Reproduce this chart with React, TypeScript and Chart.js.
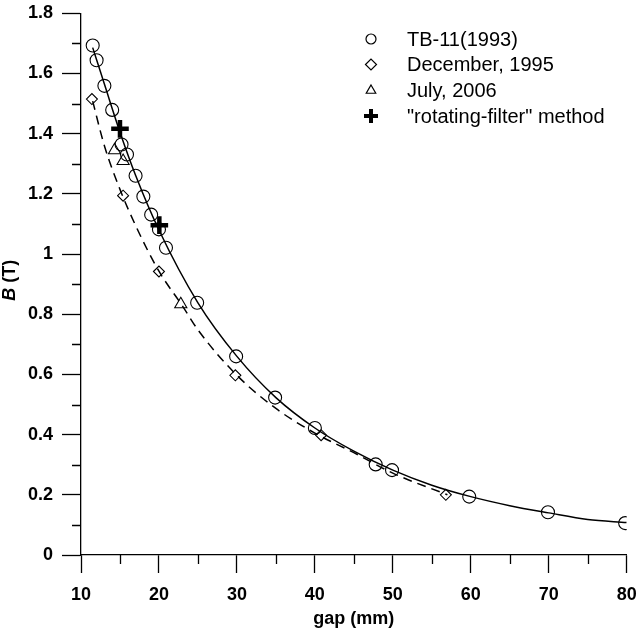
import React, { useEffect, useRef } from 'react';
import { Chart, registerables } from 'chart.js';

Chart.register(...registerables);

// TB-11(1993) measured points
const tbGap = [11.5, 12, 13, 14, 15.2, 15.9, 17, 18, 19, 20, 20.9, 24.9, 29.9, 34.9, 40, 47.8, 49.9, 59.8, 69.9, 79.8];
const tbB = [1.693, 1.644, 1.559, 1.479, 1.364, 1.331, 1.26, 1.191, 1.131, 1.082, 1.021, 0.838, 0.66, 0.523, 0.422, 0.301, 0.282, 0.194, 0.142, 0.106];

// December, 1995
const decGap = [11.4, 15.4, 20, 29.8, 40.8, 56.8];
const decB = [1.515, 1.194, 0.942, 0.597, 0.398, 0.2];

// July, 2006
const julGap = [14.3, 15.4, 22.8];
const julB = [1.345, 1.309, 0.833];

// "rotating-filter" method
const rotGap = [15, 20.05];
const rotB = [1.416, 1.096];

// fitted curve (solid) through TB-11 data
const fitGap = [11.5, 13, 15, 17, 20, 25, 30, 35, 40, 45, 50, 55, 60, 65, 70, 75, 80];
const fitB = [1.686, 1.565, 1.405, 1.262, 1.08, 0.838, 0.66, 0.523, 0.422, 0.345, 0.282, 0.232, 0.194, 0.164, 0.14, 0.118, 0.108];

// fitted curve (dashed) through December 1995 data
const dashGap = [11.5, 13, 15, 17, 20, 23, 25, 30, 35, 40, 45, 50, 57];
const dashB = [1.508, 1.36, 1.215, 1.095, 0.943, 0.828, 0.748, 0.597, 0.487, 0.405, 0.34, 0.272, 0.2];

const xTicks = [10, 20, 30, 40, 50, 60, 70, 80];
const yTicks = [0, 0.2, 0.4, 0.6, 0.8, 1, 1.2, 1.4, 1.6, 1.8];
const xMinorTicks = [15, 25, 35, 45, 55, 65, 75];
const yMinorTicks = [0.1, 0.3, 0.5, 0.7, 0.9, 1.1, 1.3, 1.5, 1.7];

const legendLabels = ['TB-11(1993)', 'December, 1995', 'July, 2006', '"rotating-filter" method'];

const FONT = "'Liberation Sans', Arial, sans-serif";

const pts = (xs: number[], ys: number[]) => xs.map((x, i) => ({ x, y: ys[i] }));

const drawMarker = (ctx: CanvasRenderingContext2D, kind: string, x: number, y: number, r: number) => {
  ctx.save();
  ctx.strokeStyle = '#000';
  ctx.fillStyle = '#000';
  ctx.beginPath();
  if (kind === 'circle') {
    ctx.lineWidth = 1.2;
    ctx.arc(x, y, r, 0, Math.PI * 2);
    ctx.stroke();
  } else if (kind === 'diamond') {
    ctx.lineWidth = 1.2;
    ctx.moveTo(x - r, y);
    ctx.lineTo(x, y - r);
    ctx.lineTo(x + r, y);
    ctx.lineTo(x, y + r);
    ctx.closePath();
    ctx.stroke();
  } else if (kind === 'triangle') {
    ctx.lineWidth = 1.2;
    for (let k = 0; k < 3; k++) {
      const a = (k * 2 * Math.PI) / 3;
      const px = x + Math.sin(a) * r;
      const py = y - Math.cos(a) * r;
      if (k === 0) ctx.moveTo(px, py);
      else ctx.lineTo(px, py);
    }
    ctx.closePath();
    ctx.stroke();
  } else if (kind === 'plus') {
    ctx.lineWidth = 4;
    ctx.moveTo(x - r, y);
    ctx.lineTo(x + r, y);
    ctx.moveTo(x, y - r);
    ctx.lineTo(x, y + r);
    ctx.stroke();
  }
  ctx.restore();
};

const decorPlugin = {
  id: 'decor',
  afterDraw(chart: any) {
    const { ctx, chartArea, scales } = chart;
    const xs = scales.x;
    const ys = scales.y;
    ctx.save();
    ctx.strokeStyle = '#000';
    ctx.lineWidth = 1.3;
    ctx.beginPath();
    for (const v of xMinorTicks) {
      const px = Math.round(xs.getPixelForValue(v)) + 0.5;
      ctx.moveTo(px, chartArea.bottom);
      ctx.lineTo(px, chartArea.bottom + 9);
    }
    for (const v of yMinorTicks) {
      const py = Math.round(ys.getPixelForValue(v)) + 0.5;
      ctx.moveTo(chartArea.left, py);
      ctx.lineTo(chartArea.left - 9, py);
    }
    ctx.stroke();

    // y-axis title with italic B
    ctx.fillStyle = '#000';
    ctx.textBaseline = 'middle';
    ctx.translate(10, (chartArea.top + chartArea.bottom) / 2 - 4);
    ctx.rotate(-Math.PI / 2);
    const f1 = `italic bold 18px ${FONT}`;
    const f2 = `bold 18px ${FONT}`;
    ctx.font = f1;
    const w1 = ctx.measureText('B').width;
    ctx.font = f2;
    const w2 = ctx.measureText(' (T)').width;
    let sx = -(w1 + w2) / 2;
    ctx.font = f1;
    ctx.textAlign = 'left';
    ctx.fillText('B', sx, 0);
    ctx.font = f2;
    ctx.fillText(' (T)', sx + w1, 0);
    ctx.restore();

    // legend
    const kinds = ['circle', 'diamond', 'triangle', 'plus'];
    const sizes = [5, 5.5, 5.5, 7];
    const rowY = [39, 64.5, 90.5, 116];
    ctx.save();
    ctx.font = `20px ${FONT}`;
    ctx.fillStyle = '#000';
    ctx.textBaseline = 'middle';
    ctx.textAlign = 'left';
    legendLabels.forEach((lab, i) => {
      drawMarker(ctx, kinds[i], 371, rowY[i], sizes[i]);
      ctx.fillText(lab, 407, rowY[i] + 1);
    });
    ctx.restore();
  },
};

export default function App() {
  const ref = useRef<HTMLCanvasElement | null>(null);
  useEffect(() => {
    if (!ref.current) return;
    const chart = new Chart(ref.current, {
      type: 'scatter',
      data: {
        datasets: [
          {
            label: 'fit TB-11',
            data: pts(fitGap, fitB),
            showLine: true,
            borderColor: '#000',
            borderWidth: 1.5,
            pointRadius: 0,
            cubicInterpolationMode: 'monotone',
            order: 5,
          },
          {
            label: 'fit Dec 1995',
            data: pts(dashGap, dashB),
            showLine: true,
            borderColor: '#000',
            borderWidth: 1.5,
            borderDash: [9, 6],
            pointRadius: 0,
            cubicInterpolationMode: 'monotone',
            order: 4,
          },
          {
            label: legendLabels[0],
            data: pts(tbGap, tbB),
            pointStyle: 'circle',
            pointRadius: 6.5,
            borderWidth: 1.1,
            borderColor: '#000',
            backgroundColor: 'rgba(0,0,0,0)',
            order: 3,
          },
          {
            label: legendLabels[1],
            data: pts(decGap, decB),
            pointStyle: 'rectRot',
            pointRadius: 5.5,
            borderWidth: 1.1,
            borderColor: '#000',
            backgroundColor: 'rgba(0,0,0,0)',
            order: 2,
          },
          {
            label: legendLabels[2],
            data: pts(julGap, julB),
            pointStyle: 'triangle',
            pointRadius: 7,
            borderWidth: 1.1,
            borderColor: '#000',
            backgroundColor: 'rgba(0,0,0,0)',
            order: 1,
          },
          {
            label: legendLabels[3],
            data: pts(rotGap, rotB),
            pointStyle: 'cross',
            pointRadius: 8.8,
            borderWidth: 4.5,
            borderColor: '#000',
            backgroundColor: '#000',
            order: 0,
          },
        ],
      },
      options: {
        animation: false,
        responsive: false,
        layout: { padding: { left: 0, right: 10, top: 7.5, bottom: 0 } },
        plugins: {
          legend: { display: false },
          tooltip: { enabled: false },
        },
        scales: {
          x: {
            type: 'linear',
            min: 10,
            max: 80,
            afterBuildTicks: (s: any) => {
              s.ticks = xTicks.map((v) => ({ value: v }));
            },
            afterFit: (s: any) => {
              s.height = 73;
              s.paddingLeft = 0;
              s.paddingRight = 0;
            },
            grid: {
              display: true,
              drawOnChartArea: false,
              drawTicks: true,
              tickLength: 18,
              tickColor: '#000',
              tickWidth: 1.3,
            },
            border: { display: true, color: '#000', width: 1.3 },
            ticks: {
              color: '#000',
              padding: 11,
              maxRotation: 0,
              autoSkip: false,
              font: { family: FONT, size: 18, weight: 'bold' },
              callback: (v: any) => String(v),
            },
            title: {
              display: true,
              text: 'gap (mm)',
              color: '#000',
              padding: 0,
              font: { family: FONT, size: 18, weight: 'bold', lineHeight: 1 },
            },
          },
          y: {
            type: 'linear',
            min: 0,
            max: 1.8,
            afterBuildTicks: (s: any) => {
              s.ticks = yTicks.map((v) => ({ value: v }));
            },
            afterFit: (s: any) => {
              s.width = 81;
              s.paddingTop = 0;
              s.paddingBottom = 0;
            },
            grid: {
              display: true,
              drawOnChartArea: false,
              drawTicks: true,
              tickLength: 19,
              tickColor: '#000',
              tickWidth: 1.3,
            },
            border: { display: true, color: '#000', width: 1.3 },
            ticks: {
              color: '#000',
              padding: 9,
              autoSkip: false,
              font: { family: FONT, size: 18, weight: 'bold' },
              callback: (v: any) => String(Number(Number(v).toFixed(1))),
            },
            title: { display: false },
          },
        },
      },
      plugins: [decorPlugin],
    } as any);
    return () => chart.destroy();
  }, []);
  return (
    <canvas
      ref={ref}
      width={640}
      height={628}
      style={{ position: 'absolute', left: 0, top: 0, display: 'block', background: '#fff' }}
    />
  );
}
